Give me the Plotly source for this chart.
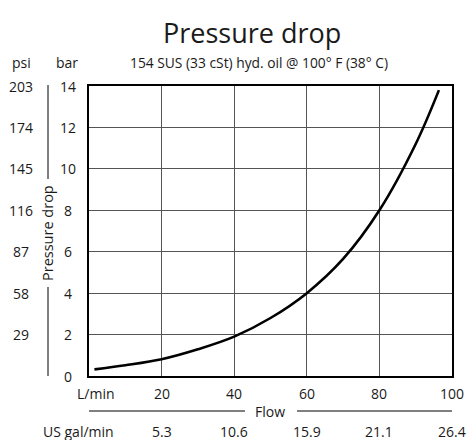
import plotly.graph_objects as go

# Pressure drop curve (flow in L/min, pressure drop in bar)
flow_lpm = [1.5, 10, 20, 30, 40, 50, 60, 70, 80, 90, 96.4]
drop_bar = [0.32, 0.52, 0.81, 1.29, 1.9, 2.8, 4.0, 5.65, 8.0, 11.2, 13.8]

# Axis tick labels
bar_ticks = [0, 2, 4, 6, 8, 10, 12, 14]
psi_labels = ["", "29", "58", "87", "116", "145", "174", "203"]
lpm_ticks = [20, 40, 60, 80, 100]
gpm_labels = ["5.3", "10.6", "15.9", "21.1", "26.4"]

FONT = "Open Sans"
W, H = 467, 440
L, R, T, B = 89, 15, 86, 64
pw = W - L - R
ph = H - T - B


def px_x(px):
    return (px - L) / pw


def px_y(py):
    return (H - B - py) / ph


fig = go.Figure()
fig.add_trace(go.Scatter(
    x=flow_lpm, y=drop_bar, mode="lines",
    line=dict(color="black", width=2.6, shape="spline", smoothing=1.0),
    hoverinfo="skip", showlegend=False,
))

ann = []
txt = dict(color="#1a1a1a", family=FONT)


def label(text, x, y, xref="paper", yref="paper", size=14, **kw):
    ann.append(dict(text=text, x=x, y=y, xref=xref, yref=yref, showarrow=False,
                    xanchor="center", yanchor="middle", font=dict(size=size, **txt), **kw))


label("Pressure drop", px_x(252), px_y(33), size=27)
label("154 SUS (33 cSt) hyd. oil @ 100° F (38° C)", px_x(259), px_y(62), size=13.8)
label("psi", px_x(21), px_y(62))
label("bar", px_x(67), px_y(62))

for v, p in zip(bar_ticks, psi_labels):
    label(str(v), px_x(68), v, yref="y")
    if p:
        label(p, px_x(21), v, yref="y")

label("Pressure drop", px_x(47), px_y(233), textangle=-90, size=14.5)

label("L/min", px_x(96), px_y(393))
label("US gal/min", px_x(78), px_y(431))
for v, g in zip(lpm_ticks, gpm_labels):
    label(str(v), v, px_y(393), xref="x")
    label(g, v, px_y(431), xref="x")
label("Flow", px_x(270), px_y(411))

rule = dict(color="black", width=1)
shapes = [
    # Flow title rule
    dict(type="line", xref="paper", yref="paper", x0=0, x1=px_x(245),
         y0=px_y(411), y1=px_y(411), line=rule),
    dict(type="line", xref="paper", yref="paper", x0=px_x(297), x1=1,
         y0=px_y(411), y1=px_y(411), line=rule),
    # Pressure drop title rule
    dict(type="line", xref="paper", yref="paper", x0=px_x(48), x1=px_x(48),
         y0=px_y(85), y1=px_y(179), line=rule),
    dict(type="line", xref="paper", yref="paper", x0=px_x(48), x1=px_x(48),
         y0=px_y(287), y1=px_y(376), line=rule),
]

fig.update_layout(
    width=W, height=H,
    margin=dict(l=L, r=R, t=T, b=B),
    paper_bgcolor="white", plot_bgcolor="white",
    annotations=ann, shapes=shapes,
    xaxis=dict(range=[0, 100], tickvals=lpm_ticks[:-1], showticklabels=False,
               showgrid=True, gridcolor="#555555", gridwidth=1.3, zeroline=False,
               showline=True, linecolor="black", linewidth=1.5, mirror=True, ticks=""),
    yaxis=dict(range=[0, 14], tickvals=bar_ticks[1:-1], showticklabels=False,
               showgrid=True, gridcolor="#555555", gridwidth=1.3, zeroline=False,
               showline=True, linecolor="black", linewidth=1.5, mirror=True, ticks=""),
)

fig.write_html("out.html")
